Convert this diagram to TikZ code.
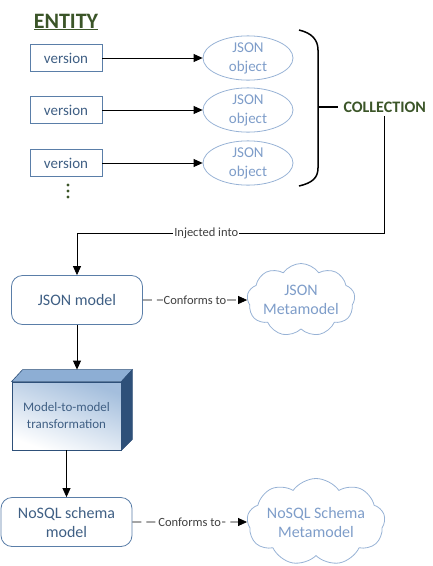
\documentclass[tikz,border=0pt]{standalone}
\usepackage{fontspec}
\setmainfont{Carlito}
\usetikzlibrary{shapes.symbols,shapes.geometric,arrows.meta}

\definecolor{boxBlue}{HTML}{5A7EA8}
\definecolor{textBlue}{HTML}{3F5F84}
\definecolor{lightBlue}{HTML}{97B2D5}
\definecolor{lightText}{HTML}{7E9DC9}
\definecolor{darkGreen}{HTML}{3B5528}
\definecolor{sideBlue}{HTML}{2E5079}
\definecolor{topBlue}{HTML}{8DAED4}

\begin{document}
\begin{tikzpicture}[
    x=1pt,
    y=-1pt,
    every node/.style={font=\fontsize{15}{17}\selectfont},
    versionBox/.style={draw=boxBlue, line width=0.8pt, text=textBlue,
        minimum width=72pt, minimum height=27pt, inner sep=0pt},
    jsonObject/.style={ellipse, draw=lightBlue, line width=0.8pt, text=lightText,
        minimum width=90pt, minimum height=42pt, inner sep=0pt, align=center,
        font=\fontsize{15}{19}\selectfont},
    modelBox/.style={draw=boxBlue, line width=0.8pt, rounded corners=11pt, text=textBlue,
        minimum width=131pt, minimum height=49pt, align=center,
        font=\fontsize{16}{19}\selectfont},
    metaCloud/.style={cloud, cloud puffs=9, cloud puff arc=110, cloud ignores aspect,
        draw=lightBlue, line width=0.8pt, text=lightText, inner sep=0pt, align=center,
        font=\fontsize{16}{19}\selectfont},
    flow/.style={-{Triangle[length=9pt,width=8pt]}, line width=0.8pt},
    conforms/.style={flow, dash pattern=on 9pt off 5pt},
    edgeLabel/.style={font=\fontsize{12.5}{14}\selectfont, fill=white, inner sep=1pt, text=black!75},
    title/.style={font=\fontsize{22}{24}\selectfont\bfseries, text=darkGreen}
]
\useasboundingbox (0,0) rectangle (432,566);

% Entity and its versions
\node[title] (entity) at (66,22) {\underline{ENTITY}};
\foreach \i/\y in {1/58,2/110,3/163}{
    \node[versionBox] (version\i) at (66,\y) {version};
    \node[jsonObject] (object\i) at (248,\y) {JSON\\object};
    \draw[flow] (version\i) -- (object\i);
}
\foreach \y in {185,191,197}
    \fill[darkGreen] (68,\y) circle (1.7);

% Collection brace
\draw[line width=1.5pt] (299,30) .. controls (312,33) and (318,40) .. (318,50)
    -- (318,168) .. controls (318,178) and (312,183) .. (299,186);
\draw[line width=1.5pt] (318,107) -- (338,107);
\node[title, font=\fontsize{16}{18}\selectfont\bfseries, anchor=west] (collection) at (340,107) {COLLECTION};

% Injection into the JSON model
\node[modelBox] (jsonModel) at (77,300) {JSON model};
\coordinate (bend) at (collection.south |- 0,233);
\draw[flow] (collection.south) -- (bend) -| node[edgeLabel, pos=0.29] {Injected into} (jsonModel.north);

\node[metaCloud, minimum width=102pt, minimum height=73pt] (jsonMeta) at (301,300) {JSON\\Metamodel};
\draw[conforms] (jsonModel.east) -- node[edgeLabel] {Conforms to} (jsonMeta.west);

% Model-to-model transformation (3D box)
\node[draw=sideBlue, line width=0.8pt, top color=topBlue!80, bottom color=white, shading angle=-20,
    minimum width=109pt, minimum height=68pt, text=textBlue, align=center,
    font=\fontsize{13}{17}\selectfont] (m2m) at (66.5,416) {Model-to-model\\transformation};
\fill[topBlue, draw=sideBlue, line width=0.6pt] (m2m.north west) -- ++(11,-12)
    -- ([shift={(11,-12)}]m2m.north east) -- (m2m.north east) -- cycle;
\fill[sideBlue, draw=sideBlue, line width=0.6pt] (m2m.north east) -- ++(11,-12)
    -- ([shift={(11,-11)}]m2m.south east) -- (m2m.south east) -- cycle;
\coordinate (m2mTop) at ([shift={(11,-12)}]m2m.north west);
\draw[flow] (jsonModel.south) -- (jsonModel.south |- m2mTop);

% NoSQL schema model
\node[modelBox] (nosqlModel) at (66.5,522) {NoSQL schema\\model};
\draw[flow] (m2m.south) -- (nosqlModel.north);

\node[metaCloud, minimum width=132pt, minimum height=87pt] (nosqlMeta) at (316,522) {NoSQL Schema\\Metamodel};
\draw[conforms] (nosqlModel.east) -- node[edgeLabel] {Conforms to} (nosqlMeta.west);

\end{tikzpicture}
\end{document}
